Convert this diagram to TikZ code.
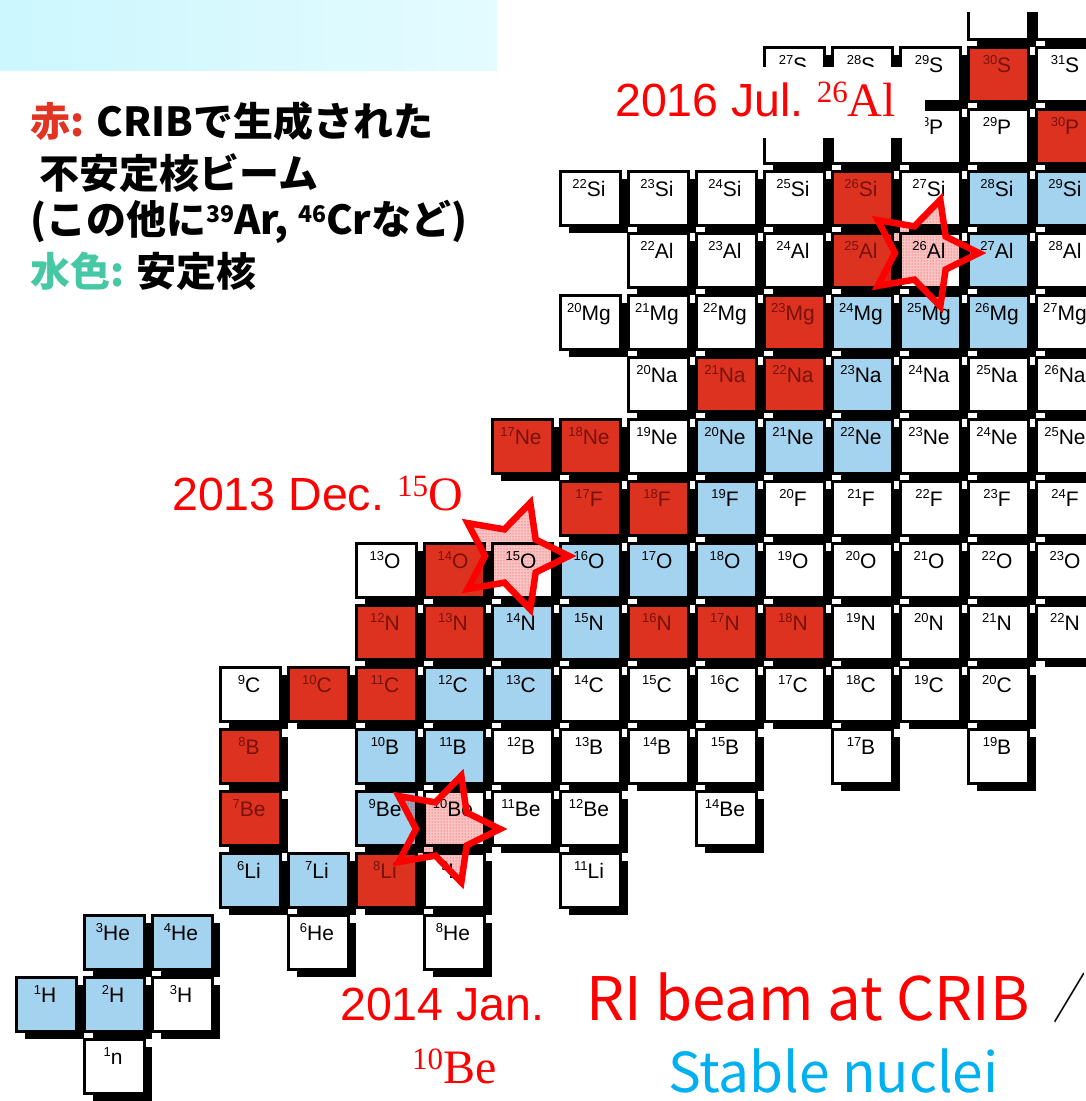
\documentclass[tikz,border=0pt]{standalone}
\usepackage{fontspec}
\usetikzlibrary{patterns}
\setmainfont{Liberation Sans}
\newfontfamily\jp{Noto Sans CJK JP}
\newfontfamily\tms{Liberation Serif}
\definecolor{cred}{RGB}{221,50,32}
\definecolor{cblue}{RGB}{164,211,239}
\definecolor{tred}{RGB}{120,18,10}
\definecolor{lred}{RGB}{255,0,0}
\definecolor{lcyan}{RGB}{0,176,240}
\definecolor{jred}{RGB}{226,52,34}
\definecolor{jteal}{RGB}{70,200,165}
\definecolor{hdrL}{RGB}{204,247,254}
\definecolor{hdrR}{RGB}{228,251,255}
\definecolor{spink}{RGB}{248,196,196}
\tikzset{
  fw/.style={fill=white}, fr/.style={fill=cred}, fb/.style={fill=cblue},
  lw/.style={text=black}, lr/.style={text=tred}, lb/.style={text=black},
  lab/.style={font=\fontsize{21}{21}\selectfont, inner sep=0pt, anchor=base},
  bigred/.style={font=\fontsize{46.5}{50}\selectfont, text=lred, inner sep=0pt, anchor=base west},
  legend/.style={font=\jp\bfseries\fontsize{40}{40}\selectfont, inner sep=0pt, anchor=base west},
  starline/.style={draw=lred, line width=6.5pt, line join=miter, miter limit=10},
}
% cells whose labels are hidden in the picture: N/Z
\def\hiddenlist{14/17,15/17,11/15,12/15}
% labelled cells: N/Z/A/symbol/type
\def\celllist{11/16/27/S/w,12/16/28/S/w,13/16/29/S/w,14/16/30/S/r,15/16/31/S/w,
13/15/28/P/w,14/15/29/P/w,15/15/30/P/r,
8/14/22/Si/w,9/14/23/Si/w,10/14/24/Si/w,11/14/25/Si/w,12/14/26/Si/r,13/14/27/Si/w,14/14/28/Si/b,15/14/29/Si/b,
9/13/22/Al/w,10/13/23/Al/w,11/13/24/Al/w,12/13/25/Al/r,13/13/26/Al/w,14/13/27/Al/b,15/13/28/Al/w,
8/12/20/Mg/w,9/12/21/Mg/w,10/12/22/Mg/w,11/12/23/Mg/r,12/12/24/Mg/b,13/12/25/Mg/b,14/12/26/Mg/b,15/12/27/Mg/w,
9/11/20/Na/w,10/11/21/Na/r,11/11/22/Na/r,12/11/23/Na/b,13/11/24/Na/w,14/11/25/Na/w,15/11/26/Na/w,
7/10/17/Ne/r,8/10/18/Ne/r,9/10/19/Ne/w,10/10/20/Ne/b,11/10/21/Ne/b,12/10/22/Ne/b,13/10/23/Ne/w,14/10/24/Ne/w,15/10/25/Ne/w,
8/9/17/F/r,9/9/18/F/r,10/9/19/F/b,11/9/20/F/w,12/9/21/F/w,13/9/22/F/w,14/9/23/F/w,15/9/24/F/w,
5/8/13/O/w,6/8/14/O/r,7/8/15/O/w,8/8/16/O/b,9/8/17/O/b,10/8/18/O/b,11/8/19/O/w,12/8/20/O/w,13/8/21/O/w,14/8/22/O/w,15/8/23/O/w,
5/7/12/N/r,6/7/13/N/r,7/7/14/N/b,8/7/15/N/b,9/7/16/N/r,10/7/17/N/r,11/7/18/N/r,12/7/19/N/w,13/7/20/N/w,14/7/21/N/w,15/7/22/N/w,
3/6/9/C/w,4/6/10/C/r,5/6/11/C/r,6/6/12/C/b,7/6/13/C/b,8/6/14/C/w,9/6/15/C/w,10/6/16/C/w,11/6/17/C/w,12/6/18/C/w,13/6/19/C/w,14/6/20/C/w,
3/5/8/B/r,5/5/10/B/b,6/5/11/B/b,7/5/12/B/w,8/5/13/B/w,9/5/14/B/w,10/5/15/B/w,12/5/17/B/w,14/5/19/B/w,
3/4/7/Be/r,5/4/9/Be/b,6/4/10/Be/w,7/4/11/Be/w,8/4/12/Be/w,10/4/14/Be/w,
3/3/6/Li/b,4/3/7/Li/b,5/3/8/Li/r,6/3/9/Li/w,8/3/11/Li/w,
1/2/3/He/b,2/2/4/He/b,4/2/6/He/w,6/2/8/He/w,
0/1/1/H/b,1/1/2/H/b,2/1/3/H/w,
1/0/1/n/w}
\newcommand\starpath{(0:56) -- (36:28) -- (72:56) -- (108:28) -- (144:56) -- (180:28) -- (216:56) -- (252:28) -- (288:56) -- (324:28) -- cycle}
\newcommand\rstar[2]{%
  \begin{scope}[shift={(#1,#2)}]
    \begin{scope}[blend mode=multiply]
      \fill[spink] \starpath;
      \fill[pattern=dots, pattern color=red!80] \starpath;
    \end{scope}
    \draw[starline] \starpath;
  \end{scope}}
\begin{document}
\begin{tikzpicture}[x=1pt,y=-1pt]
\useasboundingbox (0,0) rectangle (1086,1101);
\clip (0,0) rectangle (1086,1101);
\fill[white] (0,0) rectangle (1086,1101);
% cells: black frames and shadows
\foreach \n/\z in \hiddenlist {
  \pgfmathsetmacro\cx{15+68*\n}
  \pgfmathsetmacro\cy{1038-62*\z}
  \fill[black] (\cx,\cy) rectangle (\cx+63,\cy+57);
  \fill[black] (\cx+10,\cy+9) rectangle (\cx+69,\cy+63);
}
\foreach \n/\z/\a/\s/\t in \celllist {
  \pgfmathsetmacro\cx{15+68*\n}
  \pgfmathsetmacro\cy{1038-62*\z}
  \fill[black] (\cx,\cy) rectangle (\cx+63,\cy+57);
  \fill[black] (\cx+10,\cy+9) rectangle (\cx+69,\cy+63);
}
% cells: interiors and labels
\foreach \n/\z in \hiddenlist {
  \pgfmathsetmacro\cx{15+68*\n}
  \pgfmathsetmacro\cy{1038-62*\z}
  \fill[white] (\cx+3,\cy+3) rectangle (\cx+60,\cy+54);
}
\foreach \n/\z/\a/\s/\t in \celllist {
  \pgfmathsetmacro\cx{15+68*\n}
  \pgfmathsetmacro\cy{1038-62*\z}
  \fill[f\t] (\cx+3,\cy+3) rectangle (\cx+60,\cy+54);
  \node[lab, l\t] (c\a\s) at (\cx+30,\cy+26.5) {\raisebox{8pt}{\fontsize{13}{13}\selectfont\a}\s};
}
% top cut and header
\fill[white] (497,0) rectangle (1086,12);
\shade[left color=hdrL, right color=hdrR] (0,0) rectangle (497,70);
% legend
\node[legend] (lg1) at (30,136) {\textcolor{jred}{赤:} CRIBで生成された};
\node[legend] (lg2) at (39,188) {不安定核ビーム};
\node[legend] (lg3) at (30,234) {(この他に\raisebox{12pt}{\fontsize{23}{23}\selectfont 39}Ar, \raisebox{12pt}{\fontsize{23}{23}\selectfont 46}Crなど)};
\node[legend] (lg4) at (30,286) {\textcolor{jteal}{水色:} 安定核};
% stars
\rstar{923}{253}
\rstar{513}{556}
\rstar{444}{829}
% annotation labels
\fill[white] (600,67) rectangle (925,138);
\node[bigred] (t26) at (615,116.7) {2016 Jul.\ \tms\raisebox{14pt}{\fontsize{31}{31}\selectfont 26}\fontsize{48}{50}\selectfont Al};
\node[bigred] (t15) at (172,510) {2013 Dec.\ \tms\raisebox{14pt}{\fontsize{31}{31}\selectfont 15}\fontsize{48}{50}\selectfont O};
\node[bigred] (t10a) at (340,1020) {2014 Jan.};
\node[bigred] (t10b) at (412,1083) {\tms\raisebox{14pt}{\fontsize{31}{31}\selectfont 10}\fontsize{48}{50}\selectfont Be};
\node[font=\jp\fontsize{60}{60}\selectfont, text=lred, inner sep=0pt, anchor=base west] (ri) at (586,1020) {RI beam at CRIB};
\node[font=\jp\fontsize{54}{54}\selectfont, text=black, inner sep=0pt] (sl) at (1070,998) {\scalebox{0.6}[1]{／}};
\node[font=\jp\fontsize{55}{55}\selectfont, text=lcyan, inner sep=0pt, anchor=base west] (st) at (668,1092) {Stable nuclei};
\end{tikzpicture}
\end{document}
